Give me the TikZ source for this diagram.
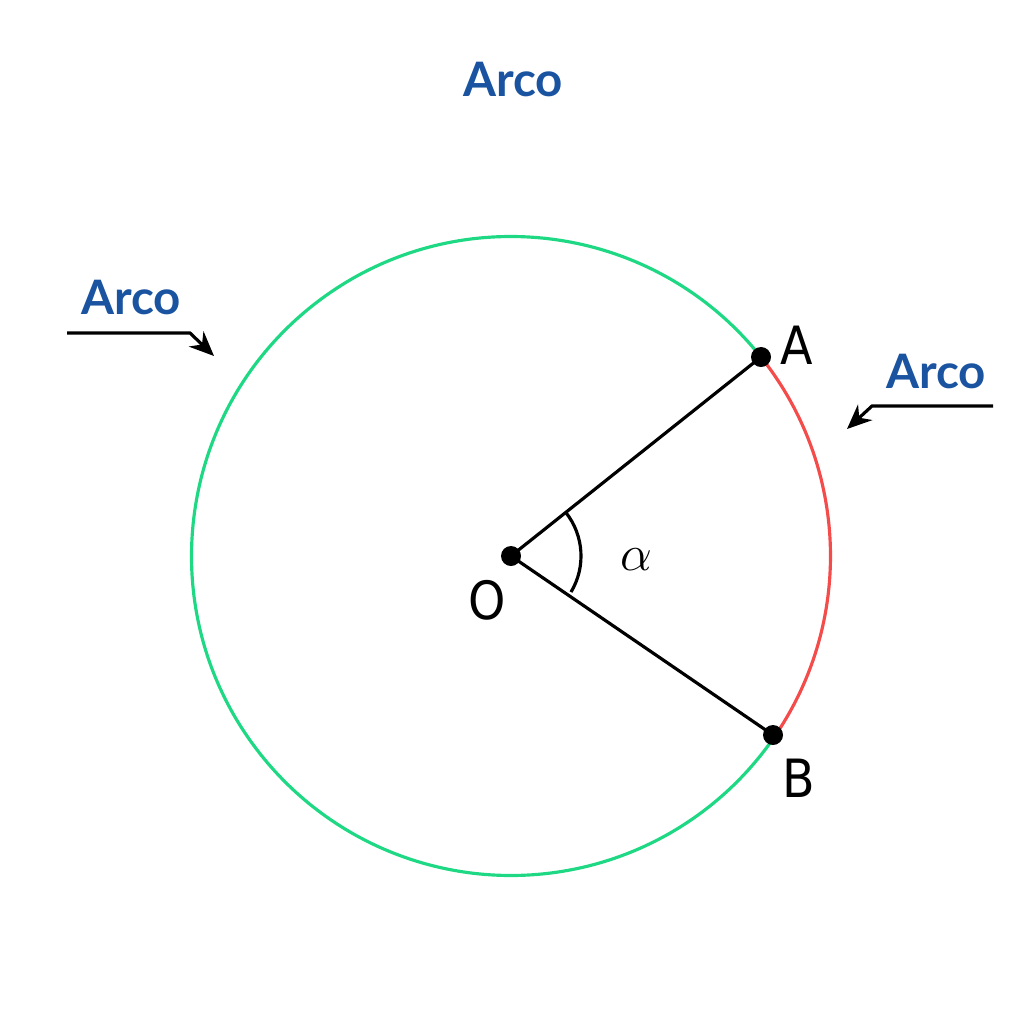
\documentclass[tikz,border=0pt]{standalone}
\usepackage{fontspec}
\setmainfont{Lato}
\newfontfamily\lblfont{DejaVu Sans Condensed}
\usetikzlibrary{arrows.meta}
\definecolor{arcblue}{HTML}{1A53A0}
\definecolor{arcgreen}{HTML}{1FD884}
\definecolor{arcred}{HTML}{F44B4B}
\tikzset{
  px/.style={x=0.01cm,y=-0.01cm},
  arclabel/.style={font=\fontsize{13.5}{16}\selectfont\bfseries, text=arcblue},
  ptlabel/.style={font=\lblfont\fontsize{15}{18}\selectfont},
  dot/.style={circle,fill=black,inner sep=0pt,minimum size=0.2cm},
  seg/.style={line width=0.9pt},
  pointer/.style={line width=0.9pt,-{Stealth[length=7pt,width=6pt]}}
}
\begin{document}
\begin{tikzpicture}[px]
\useasboundingbox (0,0) rectangle (1024,1024);
\coordinate (O) at (511,556);
\draw[arcgreen,line width=0.9pt] (O) ++(38.5:319.5 and -319.5) arc[start angle=38.5,end angle=325.7,x radius=319.5,y radius=-319.5];
\draw[arcred,line width=0.9pt] (O) ++(-34.3:319.5 and -319.5) arc[start angle=-34.3,end angle=38.5,x radius=319.5,y radius=-319.5];
\node[dot] (o) at (O) {};
\node[dot] (a) at (761,357) {};
\node[dot] (b) at (773,735) {};
\draw[seg] (o.center) -- (a.center);
\draw[seg] (o.center) -- (b.center);
\draw[seg] (O) ++(38.5:70 and -70) arc[start angle=38.5,end angle=-31,x radius=70,y radius=-70];
\node[ptlabel] (la) at (797,345) {A};
\node[ptlabel] (lb) at (799,778) {B};
\node[ptlabel] (lo) at (487,600) {O};
\node[ptlabel] (lal) at (636,560) {$\alpha$};
\node[arclabel] (t1) at (513,80) {Arco};
\node[arclabel] (t2) at (131,298) {Arco};
\node[arclabel] (t3) at (936,372) {Arco};
\coordinate (l0) at (67,333); \coordinate (l1) at (190,333); \coordinate (l2) at (214,356);
\coordinate (r0) at (993,406); \coordinate (r1) at (872,406); \coordinate (r2) at (847,429);
\draw[pointer] (l0) -- (l1) -- (l2);
\draw[pointer] (r0) -- (r1) -- (r2);
\end{tikzpicture}
\end{document}
